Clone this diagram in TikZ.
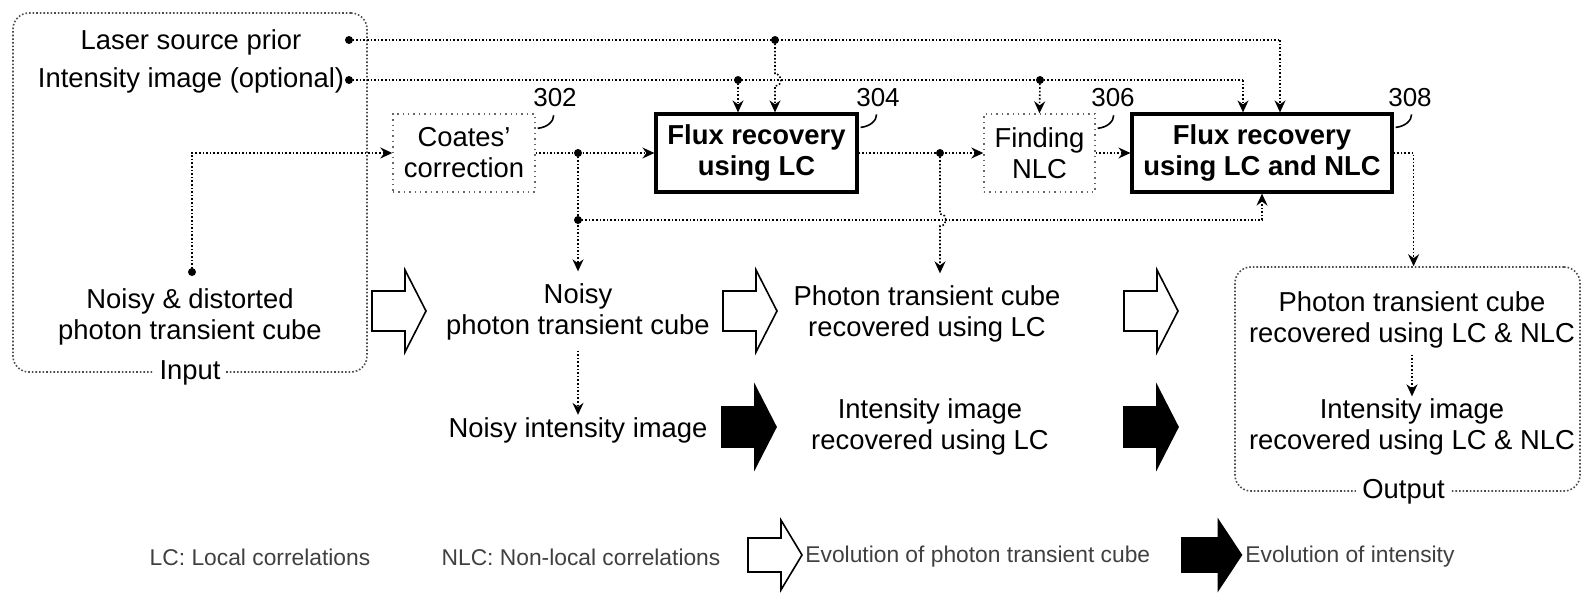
\documentclass[tikz,border=0pt]{standalone}
\usepackage{fontspec}
\setmainfont{Liberation Sans}
\usetikzlibrary{arrows.meta,positioning}

\newcommand{\mainsize}{\fontsize{13.7}{15.5}\selectfont}
\newcommand{\legendsize}{\fontsize{11.4}{13}\selectfont}

\tikzset{
  flow/.style={line width=0.8pt, densely dotted},
  arrowed/.style={-{Stealth[length=6pt,width=5.5pt,inset=2pt]}},
  softbox/.style={draw=black!60, dotted, line width=0.7pt, align=center, font=\mainsize, minimum height=39pt, inner sep=2pt},
  hardbox/.style={draw, line width=1.6pt, align=center, font=\mainsize\bfseries, minimum height=39pt, inner sep=2pt},
  areabox/.style={draw=black!70, densely dotted, line width=0.8pt, rounded corners=8pt},
  txt/.style={align=center, font=\mainsize, inner sep=1pt},
  refnum/.style={font=\fontsize{13}{15}\selectfont, inner sep=1pt},
  legendtxt/.style={font=\legendsize, text=black!75, inner sep=1pt},
  pics/bigarrow/.style={code={\draw[line width=0.8pt, fill=#1] (0,-20) -- (33,-20) -- (33,-41) -- (54,0) -- (33,41) -- (33,20) -- (0,20) -- cycle;}}
}

\begin{document}
\begin{tikzpicture}[x=0.5pt, y=-0.5pt]
    \useasboundingbox (0,0) rectangle (1581,595);

    % input and output frames
    \node[areabox, minimum width=177pt, minimum height=179.5pt] (inframe) at (190,192.5) {};
    \node[txt, fill=white, inner sep=3pt] at (inframe.south) {Input};
    \node[areabox, minimum width=172.5pt, minimum height=112pt] (outframe) at (1407.5,379) {};
    \node[txt, fill=white, inner sep=3pt] at ([xshift=-2pt]outframe.south) {Output};

    % priors
    \node[txt] (laser) at (191,42) {Laser source prior};
    \node[txt] (intens) at (191,80) {Intensity image (optional)};
    \coordinate (lsrc) at (349,40);
    \coordinate (isrc) at (349,80);

    % processing blocks
    \node[softbox, minimum width=71pt] (coates) at (464,153) {Coates'\\correction};
    \node[hardbox, minimum width=100.5pt] (lc) at (756.5,153) {Flux recovery\\using LC};
    \node[softbox, minimum width=55.5pt] (nlc) at (1039.5,153) {Finding\\NLC};
    \node[hardbox, minimum width=130pt] (lcnlc) at (1262,153) {Flux recovery\\using LC and NLC};

    % reference numerals
    \node[refnum] (n302) at (555,98) {302};
    \node[refnum] (n304) at (878,98) {304};
    \node[refnum] (n306) at (1113,98) {306};
    \node[refnum] (n308) at (1410,98) {308};
    \draw[line width=0.8pt] (coates.north east) ++(2,15) .. controls +(10,-1) and +(0,6) .. ++(16,-13);
    \draw[line width=0.8pt] (lc.north east) ++(2,15) .. controls +(10,-1) and +(0,6) .. ++(16,-13);
    \draw[line width=0.8pt] (nlc.north east) ++(2,15) .. controls +(10,-1) and +(0,6) .. ++(16,-13);
    \draw[line width=0.8pt] (lcnlc.north east) ++(2,15) .. controls +(10,-1) and +(0,6) .. ++(16,-13);

    % data at each stage
    \node[txt] (incube) at (190,317) {Noisy \& distorted\\photon transient cube};
    \node[txt] (noisycube) at (578,312) {Noisy\\photon transient cube};
    \node[txt] (lccube) at (927,314) {Photon transient cube\\recovered using LC};
    \node[txt] (outcube) at (1412,320) {Photon transient cube\\recovered using LC \& NLC};
    \node[txt] (noisyint) at (578,430) {Noisy intensity image};
    \node[txt] (lcint) at (930,427) {Intensity image\\recovered using LC};
    \node[txt] (outint) at (1412,427) {Intensity image\\recovered using LC \& NLC};

    % junctions
    \coordinate (cin) at (192,272);
    \coordinate (j1) at (775,40);
    \coordinate (j2) at (738,80);
    \coordinate (j3) at (1040,80);
    \coordinate (j4) at (578,153);
    \coordinate (j5) at (578,220);
    \coordinate (j6) at (940,153);
    \coordinate (le) at (1280,40);
    \coordinate (ie) at (1243,80);

    % connectors
    \draw[flow] (lsrc) -- (le);
    \draw[flow, arrowed] (le) -- (le |- lcnlc.north);
    \draw[flow] (isrc) -- (ie);
    \draw[flow, arrowed] (ie) -- (ie |- lcnlc.north);
    \draw[flow, arrowed] (j1) -- ++(0,34) .. controls +(8,0) and +(8,0) .. ++(0,12) -- (j1 |- lc.north);
    \draw[flow, arrowed] (j2) -- (j2 |- lc.north);
    \draw[flow, arrowed] (j3) -- (nlc.north);
    \draw[flow, arrowed] (cin) -- (cin |- coates.west) -- (coates.west);
    \draw[flow, arrowed] (coates.east) -- (lc.west);
    \draw[flow, arrowed] (lc.east) -- (nlc.west);
    \draw[flow, arrowed] (nlc.east) -- (lcnlc.west);
    \draw[flow, arrowed, shorten >=5pt] (j4) -- (j4 |- noisycube.north);
    \draw[flow, arrowed] (j5) -| (lcnlc.south);
    \draw[flow, arrowed, shorten >=5pt] (j6) -- ++(0,61) .. controls +(8,0) and +(8,0) .. ++(0,12) -- (j6 |- lccube.north);
    \draw[flow, arrowed] (lcnlc.east) -- ++(20,0) coordinate (r1) -- (r1 |- outframe.north);
    \draw[flow, arrowed, shorten <=4pt] (noisycube.south) -- (noisyint.north);
    \draw[flow, arrowed, shorten <=2pt] (outcube.south) -- (outint.north);
    \foreach \p in {lsrc,isrc,cin,j1,j2,j3,j4,j5,j6}
        \fill (\p) circle[radius=2pt];

    % evolution arrows
    \pic at (372,311) {bigarrow=white};
    \pic at (723,311) {bigarrow=white};
    \pic at (1124,311) {bigarrow=white};
    \pic at (722,427) {bigarrow=black};
    \pic at (1124,427) {bigarrow=black};

    % legend
    \node[legendtxt] (lclegend) at (260,557) {LC: Local correlations};
    \node[legendtxt] (nlclegend) at (581,557) {NLC: Non-local correlations};
    \pic[yscale=0.85] at (748,555) {bigarrow=white};
    \node[legendtxt, anchor=west] (cubelegend) at (803,557) {Evolution of photon transient cube};
    \pic[yscale=0.85, xscale=1.1] at (1182,555) {bigarrow=black};
    \node[legendtxt, anchor=west] (intlegend) at (1243,557) {Evolution of intensity};
\end{tikzpicture}
\end{document}
